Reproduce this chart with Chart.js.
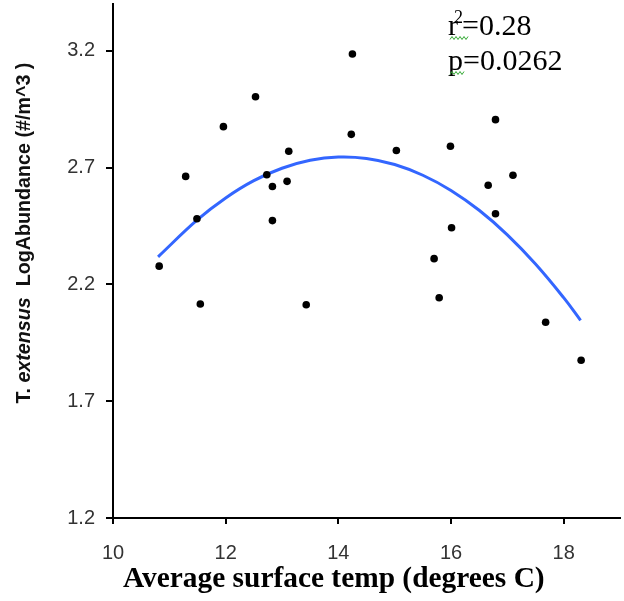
<!DOCTYPE html>
<html>
<head>
<meta charset="utf-8">
<script src="https://cdn.jsdelivr.net/npm/chart.js@4.4.1/dist/chart.umd.min.js"></script>
<style>
  html, body { margin: 0; padding: 0; background: #fff; }
  #wrap { width: 624px; height: 601px; }
</style>
</head>
<body>
<div id="wrap"><canvas id="chart"></canvas></div>
<script>
// observed samples: surface temp (C) and log abundance
var tempX = [10.82, 11.29, 11.49, 11.55, 11.96, 12.53, 12.73, 12.83, 12.83, 13.12, 13.09, 13.43,
             14.25, 14.23, 15.03, 15.99, 16.79, 17.10, 16.66, 16.79, 16.01, 15.70, 15.79, 17.68, 18.31];
var logAbund = [2.278, 2.662, 2.481, 2.116, 2.875, 3.003, 2.669, 2.619, 2.473, 2.770, 2.641, 2.113,
                3.186, 2.842, 2.773, 2.791, 2.905, 2.667, 2.624, 2.502, 2.442, 2.310, 2.143, 2.038, 1.875];

// fitted curve
var fitX = [10.8, 11.5, 12.0, 12.5, 13.0, 13.5, 14.0, 14.5, 15.0, 15.5, 16.0, 16.5, 17.0, 17.5, 18.0, 18.3];
var fitY = [2.318, 2.477, 2.570, 2.644, 2.697, 2.731, 2.745, 2.739, 2.713, 2.667, 2.602, 2.517, 2.412, 2.287, 2.143, 2.046];

var xTicks = [10, 12, 14, 16, 18];
var yTicks = [1.2, 1.7, 2.2, 2.7, 3.2];

var xTitle = 'Average surface temp (degrees C)';
var statLines = ['0.28', '0.0262'];

function toPoints(xs, ys){
    return xs.map(function(x, i){ return {x: x, y: ys[i]}; });
}

var textPlugin = {
    id: 'textPlugin',
    afterDraw: function(chart){
        var ctx = chart.ctx;
        ctx.save();
        ctx.fillStyle = '#000';

        // x axis title
        ctx.font = 'bold 29.4px "Liberation Serif"';
        ctx.textAlign = 'left';
        ctx.textBaseline = 'alphabetic';
        ctx.fillText(xTitle, 123, 587);

        // stats
        ctx.font = '30px "Liberation Serif"';
        ctx.fillText('r', 448, 35);
        var rw = ctx.measureText('r').width;
        ctx.font = '18px "Liberation Serif"';
        ctx.fillText('2', 448 + rw - 4, 23);
        ctx.font = '30px "Liberation Serif"';
        ctx.fillText('=' + statLines[0], 448 + rw + 4, 35);
        ctx.fillText('p=' + statLines[1], 448, 70);

        // spell-check squiggles
        ctx.strokeStyle = '#33a833';
        ctx.lineWidth = 1;
        [[450, 38, 18], [450, 73, 14]].forEach(function(s){
            ctx.beginPath();
            for (var i = 0; i <= s[2]; i += 2){
                var yy = s[1] + ((i / 2) % 2 ? -1.5 : 1.5);
                if (i === 0) ctx.moveTo(s[0] + i, yy); else ctx.lineTo(s[0] + i, yy);
            }
            ctx.stroke();
        });

        // y axis title, mixed italic
        var sz = '19.7px "Liberation Sans"';
        var parts = [
            {t: 'T. ', f: 'bold ' + sz},
            {t: 'extensus', f: 'italic bold ' + sz},
            {t: '  LogAbundance (#/m^3 )', f: 'bold ' + sz}
        ];
        var total = 0;
        parts.forEach(function(p){ ctx.font = p.f; p.w = ctx.measureText(p.t).width; total += p.w; });
        ctx.translate(25, 233);
        ctx.rotate(-Math.PI / 2);
        ctx.textBaseline = 'middle';
        ctx.fillStyle = '#111';
        var px = -total / 2;
        parts.forEach(function(p){ ctx.font = p.f; ctx.fillText(p.t, px, 0); px += p.w; });
        ctx.restore();
    }
};

var tickFont = {family: '"Liberation Sans", Arial, sans-serif', size: 20};

new Chart(document.getElementById('chart').getContext('2d'), {
    type: 'scatter',
    data: {
        datasets: [{
            label: 'samples',
            data: toPoints(tempX, logAbund),
            backgroundColor: '#000',
            borderColor: '#000',
            pointStyle: 'circle',
            pointRadius: 3.8,
            borderWidth: 0,
            order: 0
        }, {
            type: 'line',
            label: 'fit',
            data: toPoints(fitX, fitY),
            borderColor: '#3366ff',
            borderWidth: 3,
            pointRadius: 0,
            fill: false,
            tension: 0.4,
            order: 1
        }]
    },
    options: {
        responsive: true,
        maintainAspectRatio: false,
        animation: false,
        layout: {padding: {left: 0, right: 4, top: 3, bottom: 0}},
        plugins: {legend: {display: false}, tooltip: {enabled: false}},
        scales: {
            x: {
                type: 'linear', min: 10, max: 19,
                afterBuildTicks: function(s){ s.ticks = xTicks.map(function(v){ return {value: v}; }); },
                afterFit: function(s){ s.height = 83; s.paddingRight = 0; },
                border: {color: '#000', width: 2},
                grid: {drawOnChartArea: false, drawTicks: true, tickLength: 6, color: '#000', lineWidth: 2},
                ticks: {font: tickFont, color: '#333', padding: 17, callback: function(v){ return String(v); }}
            },
            y: {
                type: 'linear', min: 1.2, max: 3.4,
                afterBuildTicks: function(s){ s.ticks = yTicks.map(function(v){ return {value: v}; }); },
                afterFit: function(s){ s.width = 113; s.paddingTop = 0; s.paddingBottom = 0; },
                border: {color: '#000', width: 2},
                grid: {drawOnChartArea: false, drawTicks: true, tickLength: 7, color: '#000', lineWidth: 2},
                ticks: {font: tickFont, color: '#333', padding: 11, callback: function(v){ return v.toFixed(1); }}
            }
        }
    },
    plugins: [textPlugin]
});
</script>
</body>
</html>
